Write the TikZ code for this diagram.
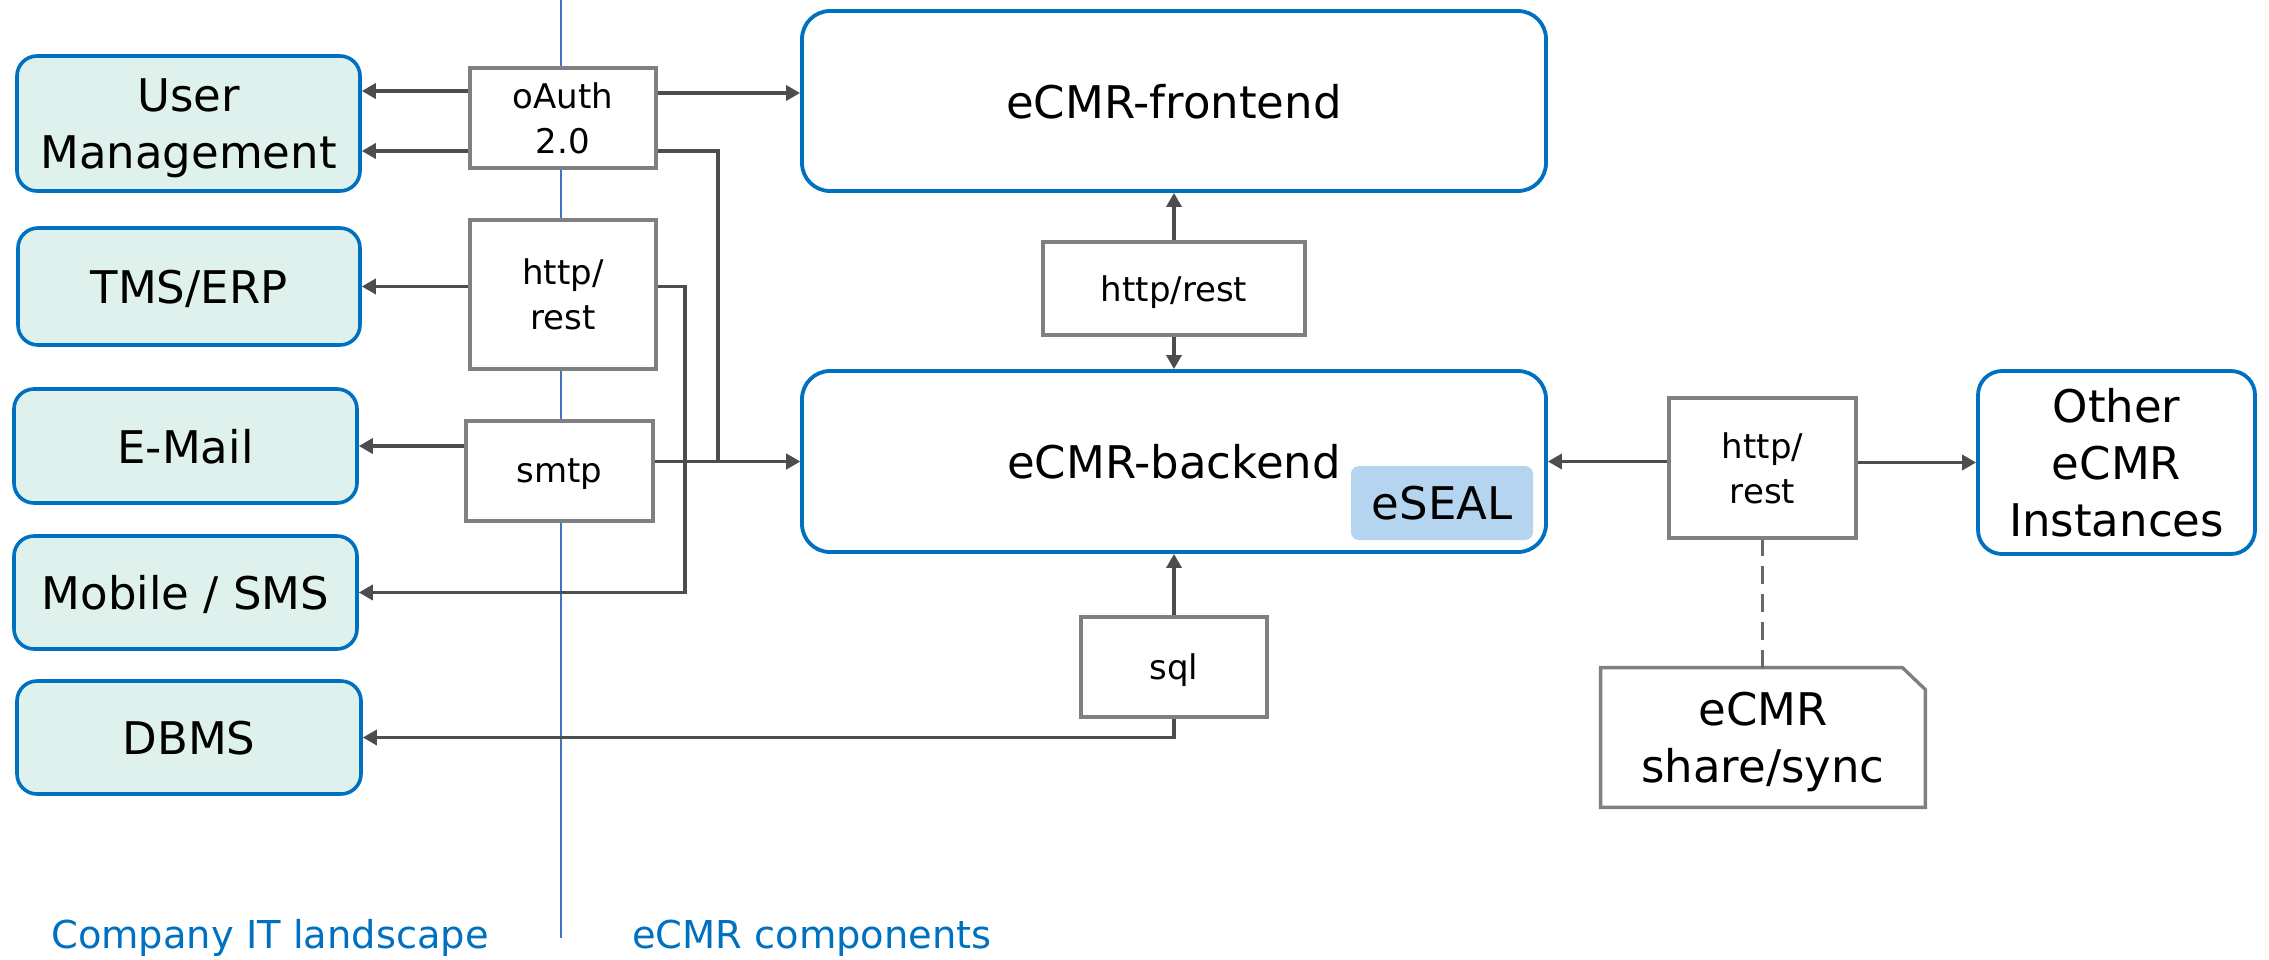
\documentclass[tikz,border=0pt]{standalone}
\usepackage{fontspec}
\setmainfont{DejaVu Sans}
\usetikzlibrary{arrows.meta}
\definecolor{boxblue}{HTML}{0070C0}
\definecolor{boxfill}{HTML}{DFF1EC}
\definecolor{protogray}{HTML}{808080}
\definecolor{arrowgray}{HTML}{4D4D4D}
\definecolor{lineblue}{HTML}{4472C4}
\definecolor{sealblue}{HTML}{B4D4F0}
\newcommand\fbig{\fontsize{22.5}{28.5}\selectfont}
\newcommand\fsmall{\fontsize{17}{22.5}\selectfont}
\newcommand\flabel{\fontsize{19.2}{23}\selectfont}
\begin{document}
\begin{tikzpicture}[x=0.5pt,y=-0.5pt,
  extsys/.style={draw=boxblue, line width=1.8pt, fill=boxfill, rounded corners=10pt,
    align=center, inner sep=0pt, text depth=0pt, font=\fbig},
  comp/.style={draw=boxblue, line width=1.9pt, fill=white, rounded corners=14pt,
    align=center, inner sep=0pt, text depth=0pt, font=\fbig},
  proto/.style={draw=protogray, line width=1.7pt, fill=white, align=center,
    inner sep=0pt, text depth=0pt, font=\fsmall},
  arr/.style={draw=arrowgray, line width=1.7pt, -{Triangle[length=7pt,width=7.5pt]}},
  link/.style={draw=arrowgray, line width=1.6pt},
  sidelabel/.style={text=boxblue, font=\flabel, inner sep=0pt, anchor=base}
]
\useasboundingbox (0,0) rectangle (2269,959);

% divider line
\coordinate (vtop) at (561,0);
\coordinate (vbot) at (561,938);
\draw[lineblue, line width=1.3pt] (vtop) -- (vbot);

% company IT systems
\node[extsys, minimum width=171.5pt, minimum height=67.5pt] (um) at (188.5,123.5) {User\\Management};
\node[extsys, minimum width=171pt, minimum height=58.5pt] (tms) at (189,286.5) {TMS/ERP};
\node[extsys, minimum width=171.5pt, minimum height=57pt] (mail) at (185.5,446) {E-Mail};
\node[extsys, minimum width=171.5pt, minimum height=56.5pt] (mob) at (185.5,592.5) {Mobile / SMS};
\node[extsys, minimum width=172pt, minimum height=56.5pt] (dbms) at (189,737.5) {DBMS};

% protocol boxes on the divider
\node[proto, minimum width=93pt, minimum height=50pt] (oauth) at (563,118) {oAuth\\2.0};
\node[proto, minimum width=93pt, minimum height=74.5pt] (http1) at (563,294.5) {http/\\rest};
\node[proto, minimum width=93.5pt, minimum height=50pt] (smtp) at (559.5,471) {smtp};

% eCMR components
\node[comp, minimum width=372pt, minimum height=90pt] (front) at (1174,101) {eCMR-frontend};
\node[comp, minimum width=372pt, minimum height=90.5pt] (back) at (1174,461.5) {eCMR-backend};
\node[fill=sealblue, rounded corners=4pt, minimum width=91pt, minimum height=37pt,
  inner sep=0pt, text depth=0pt, font=\fbig] (eseal) at (1442,503) {eSEAL};
\node[proto, minimum width=131pt, minimum height=46.5pt] (http2) at (1174,288.5) {http/rest};
\node[proto, minimum width=93pt, minimum height=50pt] (sql) at (1174,667) {sql};
\node[proto, minimum width=93.5pt, minimum height=70pt] (http3) at (1762.5,468) {http/\\rest};
\node[comp, rounded corners=12pt, minimum width=138.5pt, minimum height=91.5pt] (other) at (2116.5,462.5) {Other\\eCMR\\Instances};
\node[align=center, inner sep=0pt, text depth=0pt, font=\fbig,
  minimum width=162pt, minimum height=69.5pt] (share) at (1763,737.5) {eCMR\\share/sync};
\draw[protogray, line width=1.7pt, fill=none]
  (share.south west) -- (share.north west) -- ([xshift=-11.5pt]share.north east)
  -- ([yshift=-11pt]share.north east) -- (share.south east) -- cycle;

% level coordinates
\coordinate (yA) at (0,91);
\coordinate (yB) at (0,151);
\coordinate (yC) at (0,93);
\coordinate (xJ1) at (718,0);
\coordinate (xJ2) at (685,0);

% connectors
\draw[arr] (oauth.west |- yA) -- (um.east |- yA);
\draw[arr] (oauth.west |- yB) -- (um.east |- yB);
\draw[arr] (oauth.east |- yC) -- (front.west |- yC);
\draw[arr] (oauth.east |- yB) -- (xJ1 |- yB) -- (xJ1 |- back.west) -- (back.west);
\draw[arr] (http1.west |- tms.east) -- (tms.east);
\draw[arr] (http1.east |- tms.east) -- (xJ2 |- tms.east) -- (xJ2 |- mob.east) -- (mob.east);
\draw[arr] (smtp.west |- mail.east) -- (mail.east);
\draw[arr] (smtp.east |- back.west) -- (back.west);
\draw[arr] (http2.north) -- (front.south);
\draw[arr] (http2.south) -- (back.north);
\draw[arr] (sql.north) -- (back.south);
\draw[arr] (sql.south) -- (sql.south |- dbms.east) -- (dbms.east);
\draw[arr] (http3.west |- back.east) -- (back.east);
\draw[arr] (http3.east |- other.west) -- (other.west);
\draw[link, draw=arrowgray!85, dash pattern=on 9pt off 5pt] (share.north -| http3.south) -- (http3.south);

% side labels
\node[sidelabel] (lblleft) at (270,948) {Company IT landscape};
\node[sidelabel] (lblright) at (812,948) {eCMR components};
\end{tikzpicture}
\end{document}
